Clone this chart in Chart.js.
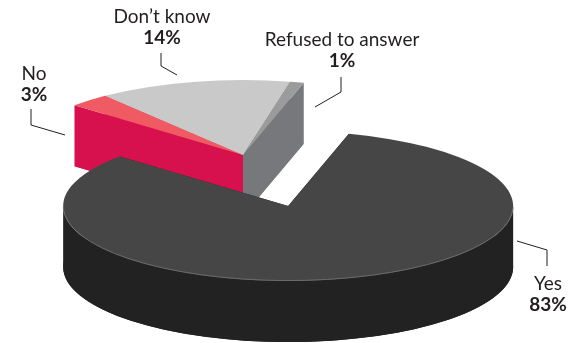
<!DOCTYPE html>
<html>
<head>
<meta charset="utf-8">
<script src="https://cdn.jsdelivr.net/npm/chart.js@4.4.1/dist/chart.umd.min.js"></script>
<style>
  html, body { margin: 0; padding: 0; background: #fff; }
  canvas { display: block; }
</style>
</head>
<body>
<canvas id="pieChart" width="576" height="343"></canvas>
<script>
// survey answers, clockwise from the upper left
const answers = ["No", "Don\u2019t know", "Refused to answer", "Yes"];
const shares = [3, 14, 1, 83];
const shareText = ["3%", "14%", "1%", "83%"];

const topColors = ["#f05b63", "#c9c9c9", "#9b9b9b", "#464646"];
const sideColors = ["#d6114d", "#a9a9a9", "#77787b", "#222222"];
const explode = [0, 0, 0, 0.71];

// look of the fake 3d
const STRETCH_X = 225 / 155;
const STRETCH_Y = 75 / 155;
const DEPTH = 61;

// label anchors (centre x, baseline of first line) and leader lines
const labelPos = [[34, 80], [162, 23], [342, 46], [548, 290]];
const leaders = [
    [[31, 109], [31, 125], [65, 135]],
    [[161, 53], [161, 66], [177, 75]],
    [[341, 77], [341, 92], [315, 107]],
    [[517, 241], [547, 250], [547, 266]]
];

const slicePath = (ctx, s, dy) => {
    ctx.beginPath();
    ctx.moveTo(s.cx, s.cy + dy);
    ctx.ellipse(s.cx, s.cy + dy, s.rx, s.ry, 0, s.a0, s.a1);
    ctx.closePath();
}

const rimPoint = (s, a) => [s.cx + Math.cos(a) * s.rx, s.cy + Math.sin(a) * s.ry];

const drawSides = (ctx, s) => {
    ctx.fillStyle = sideColors[s.i];
    // bottom face
    slicePath(ctx, s, DEPTH);
    ctx.fill();
    // the two cut faces
    [s.a0, s.a1].forEach(a => {
        const [px, py] = rimPoint(s, a);
        ctx.beginPath();
        ctx.moveTo(s.cx, s.cy);
        ctx.lineTo(px, py);
        ctx.lineTo(px, py + DEPTH);
        ctx.lineTo(s.cx, s.cy + DEPTH);
        ctx.closePath();
        ctx.fill();
    });
    // outer wall, only the part facing us
    for (let k = 0; k <= 4 * Math.PI; k += 2 * Math.PI) {
        const t0 = Math.max(s.a0, k);
        const t1 = Math.min(s.a1, k + Math.PI);
        if (t1 <= t0) continue;
        ctx.beginPath();
        ctx.ellipse(s.cx, s.cy, s.rx, s.ry, 0, t0, t1);
        ctx.ellipse(s.cx, s.cy + DEPTH, s.rx, s.ry, 0, t1, t0, true);
        ctx.closePath();
        ctx.fill();
    }
}

const drawTop = (ctx, s) => {
    ctx.fillStyle = topColors[s.i];
    slicePath(ctx, s, 0);
    ctx.fill();
}

const pie3d = {
    id: 'pie3d',
    beforeDatasetsDraw(chart) {
        const ctx = chart.ctx;
        const arcs = chart.getDatasetMeta(0).data;
        const slices = arcs.map((arc, i) => {
            const p = arc.getProps(['x', 'y', 'startAngle', 'endAngle', 'outerRadius'], true);
            const mid = (p.startAngle + p.endAngle) / 2;
            const rx = p.outerRadius * STRETCH_X;
            const ry = p.outerRadius * STRETCH_Y;
            return {
                i: i, a0: p.startAngle, a1: p.endAngle, rx: rx, ry: ry,
                cx: p.x + Math.cos(mid) * explode[i] * rx,
                cy: p.y + Math.sin(mid) * explode[i] * ry
            };
        });

        ctx.save();
        // back group first: the small answers
        [1, 0, 2].forEach(i => drawSides(ctx, slices[i]));
        [0, 1, 2].forEach(i => drawTop(ctx, slices[i]));

        // then the big Yes slice in front
        const yes = slices[3];
        drawSides(ctx, yes);
        drawTop(ctx, yes);
        ctx.strokeStyle = "#6c6c6c";
        ctx.lineWidth = 1;
        ctx.beginPath();
        ctx.ellipse(yes.cx, yes.cy, yes.rx, yes.ry - 0.5, 0, 0.02, Math.PI - 0.02);
        ctx.stroke();
        ctx.restore();
        return false;
    },
    afterDraw(chart) {
        const ctx = chart.ctx;
        ctx.save();
        ctx.strokeStyle = "#231f20";
        ctx.lineWidth = 1;
        leaders.forEach(pts => {
            ctx.beginPath();
            pts.forEach((pt, k) => k ? ctx.lineTo(pt[0], pt[1]) : ctx.moveTo(pt[0], pt[1]));
            ctx.stroke();
        });

        ctx.fillStyle = "#231f20";
        ctx.textAlign = "center";
        ctx.textBaseline = "alphabetic";
        chart.data.labels.forEach((name, i) => {
            const [x, y] = labelPos[i];
            ctx.font = "19px Lato";
            ctx.fillText(name, x, y);
            ctx.font = "bold 19px Lato";
            ctx.fillText(shareText[i], x, y + 21);
        });
        ctx.restore();
    }
}

new Chart(document.getElementById('pieChart'), {
    type: 'pie',
    data: {
        labels: answers,
        datasets: [{
            data: shares,
            backgroundColor: topColors,
            borderWidth: 0
        }]
    },
    options: {
        responsive: false,
        animation: false,
        rotation: 311.5,
        layout: {
            padding: { left: 0, right: 90, top: 0, bottom: 33 }
        },
        plugins: {
            legend: { display: false },
            tooltip: { enabled: false }
        }
    },
    plugins: [pie3d]
});
</script>
</body>
</html>
